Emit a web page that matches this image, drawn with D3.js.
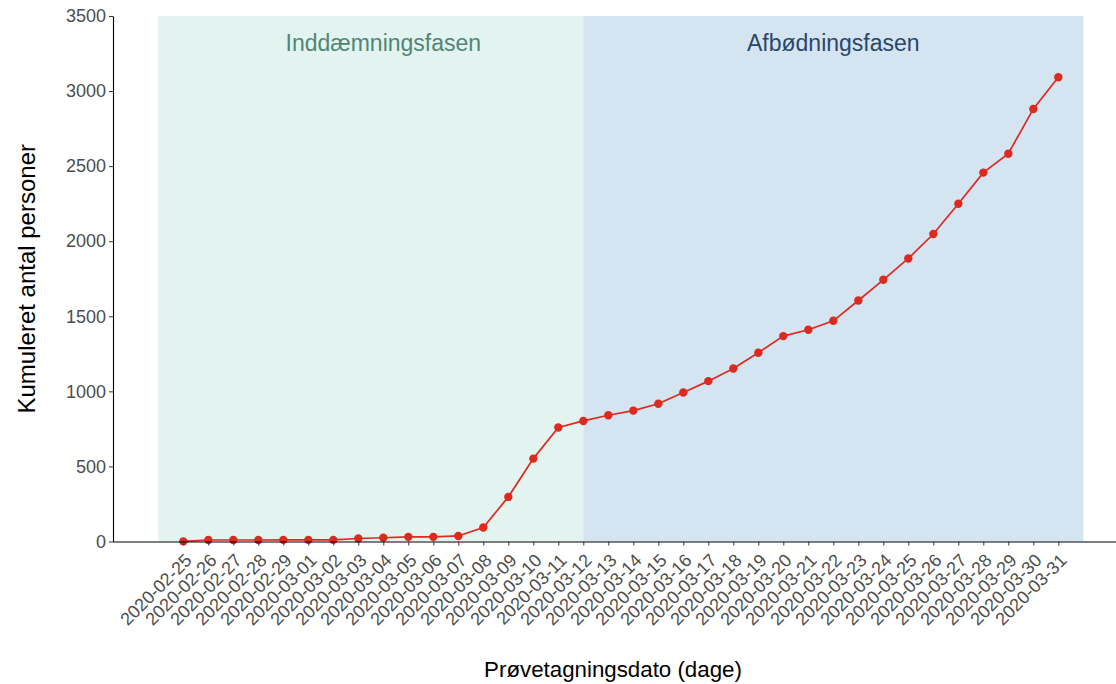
<!DOCTYPE html>
<html>
<head>
<meta charset="utf-8">
<script src="https://cdn.jsdelivr.net/npm/d3@7"></script>
<style>
  html, body { margin: 0; padding: 0; background: #fff; }
  svg { display: block; font-family: "Liberation Sans", Arial, sans-serif; }
</style>
</head>
<body>
<svg id="chart" width="1116" height="684"></svg>
<script>
// ---- data ----
const dates = [
  "2020-02-25","2020-02-26","2020-02-27","2020-02-28","2020-02-29","2020-03-01",
  "2020-03-02","2020-03-03","2020-03-04","2020-03-05","2020-03-06","2020-03-07",
  "2020-03-08","2020-03-09","2020-03-10","2020-03-11","2020-03-12","2020-03-13",
  "2020-03-14","2020-03-15","2020-03-16","2020-03-17","2020-03-18","2020-03-19",
  "2020-03-20","2020-03-21","2020-03-22","2020-03-23","2020-03-24","2020-03-25",
  "2020-03-26","2020-03-27","2020-03-28","2020-03-29","2020-03-30","2020-03-31"
];
const cumulative = [
  1, 10, 10, 10, 11, 11,
  11, 20, 25, 31, 31, 37,
  93, 297, 552, 759, 803, 841,
  872, 917, 992, 1068, 1152, 1257,
  1368, 1410, 1470, 1605, 1743, 1885,
  2048, 2250, 2457, 2583, 2881, 3092
];
const phaseNames = ["Inddæmningsfasen", "Afbødningsfasen"];
const phaseStart = ["2020-02-24", "2020-03-12"];
const phaseEnd = ["2020-03-12", "2020-04-01"];
const phaseLabelAt = ["2020-03-04", "2020-03-22"];
const phaseFill = ["#e3f3ef", "#d5e4f1"];
const phaseText = ["#4f8676", "#28476b"];
const yTicks = [0, 500, 1000, 1500, 2000, 2500, 3000, 3500];

// ---- layout ----
const svg = d3.select("#chart");
const mLeft = 113, mRight = 1116, mTop = 16, mBottom = 541.5;
const parse = d3.utcParse("%Y-%m-%d");
const day = 86400000;
const d0 = parse(dates[0]);
const x = d3.scaleUtc()
  .domain([new Date(+d0 - 2.813 * day), new Date(+d0 + 37.307 * day)])
  .range([mLeft, mRight]);
const y = d3.scaleLinear().domain([0, 3500]).range([mBottom, mTop]);
const FONT = "Liberation Sans, Arial, sans-serif";

// phase backgrounds
phaseNames.forEach((name, i) => {
  svg.append("rect")
    .attr("x", x(parse(phaseStart[i])))
    .attr("y", y(3500))
    .attr("width", x(parse(phaseEnd[i])) - x(parse(phaseStart[i])))
    .attr("height", y(0) - y(3500))
    .attr("fill", phaseFill[i]);
  svg.append("text")
    .attr("x", x(parse(phaseLabelAt[i])))
    .attr("y", 51)
    .attr("text-anchor", "middle")
    .attr("font-size", 23)
    .attr("fill", phaseText[i])
    .text(name);
});

// line + points
const pts = dates.map((d, i) => ({ date: parse(d), v: cumulative[i] }));
svg.append("path")
  .datum(pts)
  .attr("fill", "none")
  .attr("stroke", "#dc2a1f")
  .attr("stroke-width", 1.7)
  .attr("d", d3.line().x(d => x(d.date)).y(d => y(d.v)));
svg.append("g").selectAll("circle")
  .data(pts)
  .join("circle")
  .attr("cx", d => x(d.date))
  .attr("cy", d => y(d.v))
  .attr("r", 4.2)
  .attr("fill", "#dc2a1f");

// y axis
const yAxis = svg.append("g")
  .attr("transform", `translate(${mLeft},0)`)
  .call(d3.axisLeft(y).tickValues(yTicks).tickSize(4).tickSizeOuter(0).tickPadding(3)
    .tickFormat(d3.format("d")));
yAxis.select(".domain").attr("stroke", "#000").attr("stroke-width", 1.1);
yAxis.selectAll(".tick line").attr("stroke", "#333");
yAxis.selectAll(".tick text").attr("fill", "#4d4d4d").attr("font-size", 18).attr("font-family", FONT);

// x axis
const xAxis = svg.append("g")
  .attr("transform", `translate(0,${mBottom})`)
  .call(d3.axisBottom(x).tickValues(pts.map(p => p.date)).tickSize(4).tickSizeOuter(0)
    .tickFormat(d3.utcFormat("%Y-%m-%d")));
xAxis.select(".domain").attr("stroke", "#000").attr("stroke-width", 1.1);
xAxis.selectAll(".tick line").attr("stroke", "#333");
xAxis.selectAll(".tick text")
  .attr("fill", "#4d4d4d")
  .attr("font-size", 18)
  .attr("font-family", FONT)
  .attr("text-anchor", "end")
  .attr("dy", null)
  .attr("y", 0)
  .attr("transform", "translate(9,20) rotate(-45)");

// axis titles
svg.append("text")
  .attr("transform", `translate(35,${(mTop + mBottom) / 2}) rotate(-90)`)
  .attr("text-anchor", "middle")
  .attr("font-size", 24)
  .attr("font-family", FONT)
  .attr("fill", "#000")
  .text("Kumuleret antal personer");
svg.append("text")
  .attr("x", 613)
  .attr("y", 677)
  .attr("text-anchor", "middle")
  .attr("font-size", 22.3)
  .attr("font-family", FONT)
  .attr("fill", "#000")
  .text("Prøvetagningsdato (dage)");
</script>
</body>
</html>
